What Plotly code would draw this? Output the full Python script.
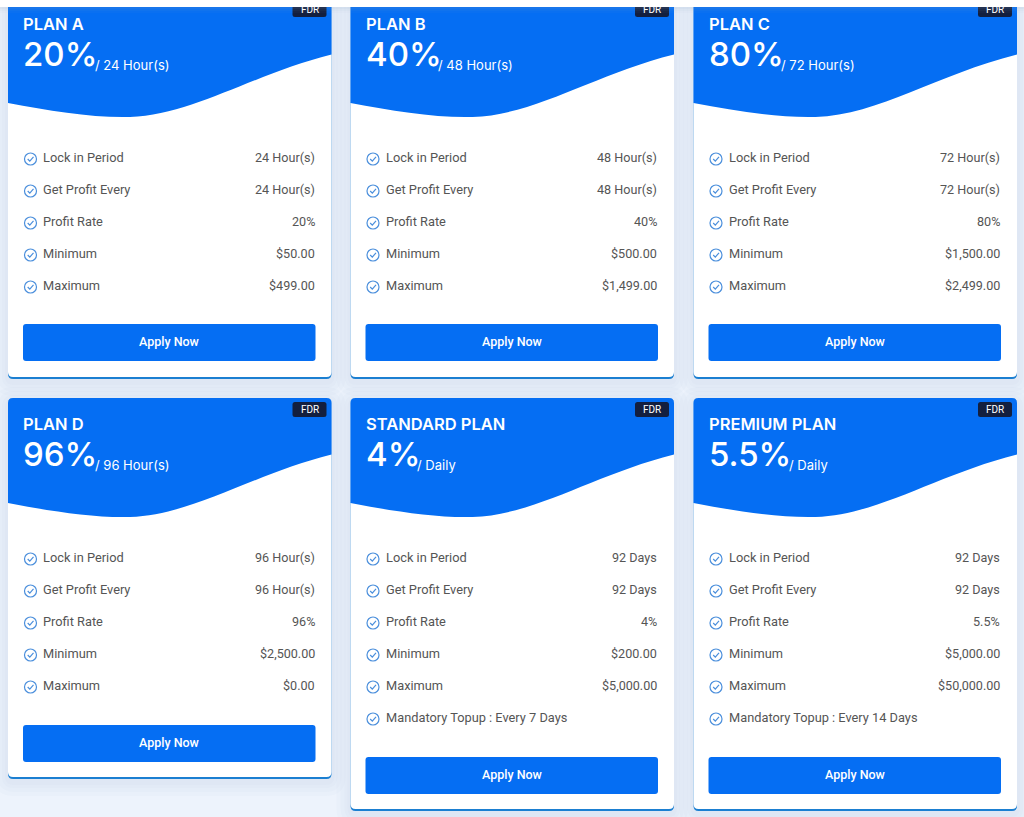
import plotly.graph_objects as go

# plan data
plan_names = ['PLAN A', 'PLAN B', 'PLAN C', 'PLAN D', 'STANDARD PLAN', 'PREMIUM PLAN']
plan_rates = ['20%', '40%', '80%', '96%', '4%', '5.5%']
plan_terms = ['24 Hour(s)', '48 Hour(s)', '72 Hour(s)', '96 Hour(s)', 'Daily', 'Daily']
lock_in = ['24 Hour(s)', '48 Hour(s)', '72 Hour(s)', '96 Hour(s)', '92 Days', '92 Days']
profit_every = ['24 Hour(s)', '48 Hour(s)', '72 Hour(s)', '96 Hour(s)', '92 Days', '92 Days']
profit_rate = ['20%', '40%', '80%', '96%', '4%', '5.5%']
minimum = ['$50.00', '$500.00', '$1,500.00', '$2,500.00', '$200.00', '$5,000.00']
maximum = ['$499.00', '$1,499.00', '$2,499.00', '$0.00', '$5,000.00', '$50,000.00']
topup = [None, None, None, None, 'Mandatory Topup : Every 7 Days', 'Mandatory Topup : Every 14 Days']
row_labels = ['Lock in Period', 'Get Profit Every', 'Profit Rate', 'Minimum', 'Maximum']

BG = '#edf3fc'
BLUE = '#056ef3'
EDGE = '#1b7fd1'
ICON = '#4b8fdc'
TEXT = '#555555'
BADGE = '#131f3f'
HEAD_FONT = 'Inter'
BODY_FONT = 'Roboto'

card_left = [8, 350.5, 693.5, 8, 350.5, 693.5]
card_top = [-2, -2, -2, 398, 398, 398]
card_bottom = [379, 379, 379, 779, 811, 811]
CARD_W = 323.5

shapes = []
notes = []


def round_rect(x0, y0, x1, y1, r):
    return (f'M {x0+r},{y0} L {x1-r},{y0} Q {x1},{y0} {x1},{y0+r} L {x1},{y1-r} Q {x1},{y1} {x1-r},{y1} '
            f'L {x0+r},{y1} Q {x0},{y1} {x0},{y1-r} L {x0},{y0+r} Q {x0},{y0} {x0+r},{y0} Z')


def add_path(path, fill, opacity=1, line=None, width=0):
    shapes.append(dict(type='path', path=path, fillcolor=fill, opacity=opacity, xref='x', yref='y',
                       line=dict(color=line or 'rgba(0,0,0,0)', width=width)))


def add_text(x, y, text, size, color, anchor='left', font=BODY_FONT, weight=400):
    notes.append(dict(x=x, y=y, text=text, xref='x', yref='y', showarrow=False, xanchor=anchor, yanchor='middle',
                      font=dict(family=font, size=size, color=color, weight=weight), borderpad=0))


def rate_width(rate):
    # rough width of the big percentage, so the term can sit right after it
    return sum(30 if c == '%' else 8 if c == '.' else 20.5 for c in rate)


for i, name in enumerate(plan_names):
    x0 = card_left[i]
    x1 = x0 + CARD_W
    y0 = card_top[i]
    y1 = card_bottom[i]

    # soft shadow
    for grow in [14, 10, 6, 3]:
        add_path(round_rect(x0 - grow, y0 - grow + 3, x1 + grow, y1 + grow + 3, 6 + grow), '#8fa9c8', 0.04)
    # bottom edge then white body
    add_path(round_rect(x0, y0, x1, y1, 5), EDGE)
    add_path(round_rect(x0, y0, x1, y1 - 2, 5), '#ffffff')

    # header with the wave
    t = y0
    add_path(f'M {x0},{t+5} Q {x0},{t} {x0+5},{t} L {x1-5},{t} Q {x1},{t} {x1},{t+5} L {x1},{t+56.5} '
             f'C {x0+245},{t+76} {x0+185},{t+117} {x0+122},{t+119} '
             f'C {x0+85},{t+120} {x0+42},{t+113} {x0},{t+105} Z', BLUE)

    # FDR badge
    add_path(round_rect(x1 - 39, t + 4, x1 - 5, t + 19, 2.5), BADGE)
    add_text(x1 - 22, t + 11.5, 'FDR', 10, '#ffffff', 'center')

    add_text(x0 + 14, t + 26, name, 16.5, '#ffffff', font=HEAD_FONT, weight=600)
    add_text(x0 + 14, t + 56, plan_rates[i], 33, '#ffffff', font=HEAD_FONT, weight=500)
    add_text(x0 + 15 + rate_width(plan_rates[i]), t + 67, f'/ {plan_terms[i]}', 13, '#ffffff', font=HEAD_FONT)

    # list rows
    values = [lock_in[i], profit_every[i], profit_rate[i], minimum[i], maximum[i]]
    labels = list(row_labels)
    if topup[i]:
        labels.append(topup[i])
        values.append('')
    for j, label in enumerate(labels):
        ry = t + 160 + 32 * j
        cx = x0 + 22.5
        cy = ry + 1
        shapes.append(dict(type='circle', x0=cx - 6, x1=cx + 6, y0=cy - 6, y1=cy + 6, xref='x', yref='y',
                           line=dict(color=ICON, width=1.2), fillcolor='rgba(0,0,0,0)'))
        shapes.append(dict(type='path', path=f'M {cx-2.8},{cy} L {cx-0.7},{cy+2.1} L {cx+3},{cy-2.2}', xref='x', yref='y',
                           line=dict(color=ICON, width=1.2)))
        add_text(x0 + 34, ry - 0.4, label, 12.8, TEXT)
        if values[j]:
            add_text(x1 - 16, ry - 0.4, values[j], 12.6, TEXT, 'right')

    # button
    by = t + 326 if i < 3 else (t + 327 if not topup[i] else t + 359)
    add_path(round_rect(x0 + 15, by, x1 - 16, by + 37, 3), BLUE)
    add_text((x0 + x1) / 2, by + 17.5, 'Apply Now', 12.5, '#ffffff', 'center', weight=500)

# white strip across the top of the page
for h, op in [(13, 0.04), (11, 0.05), (9, 0.07)]:
    shapes.append(dict(type='rect', x0=0, x1=1024, y0=0, y1=h, fillcolor='#8fa9c8', opacity=op, xref='x', yref='y',
                       line=dict(width=0)))
shapes.append(dict(type='rect', x0=0, x1=1024, y0=0, y1=7, fillcolor='#ffffff', xref='x', yref='y', line=dict(width=0)))

fig = go.Figure()
fig.update_layout(
    width=1024,
    height=817,
    margin=dict(l=0, r=0, t=0, b=0),
    paper_bgcolor=BG,
    plot_bgcolor=BG,
    showlegend=False,
    shapes=shapes,
    annotations=notes,
    xaxis=dict(range=[0, 1024], visible=False, fixedrange=True),
    yaxis=dict(range=[817, 0], visible=False, fixedrange=True),
)

fig.write_html('out.html', config=dict(displayModeBar=False),
               post_script="document.body.style.margin='0';document.body.style.overflow='hidden';")
